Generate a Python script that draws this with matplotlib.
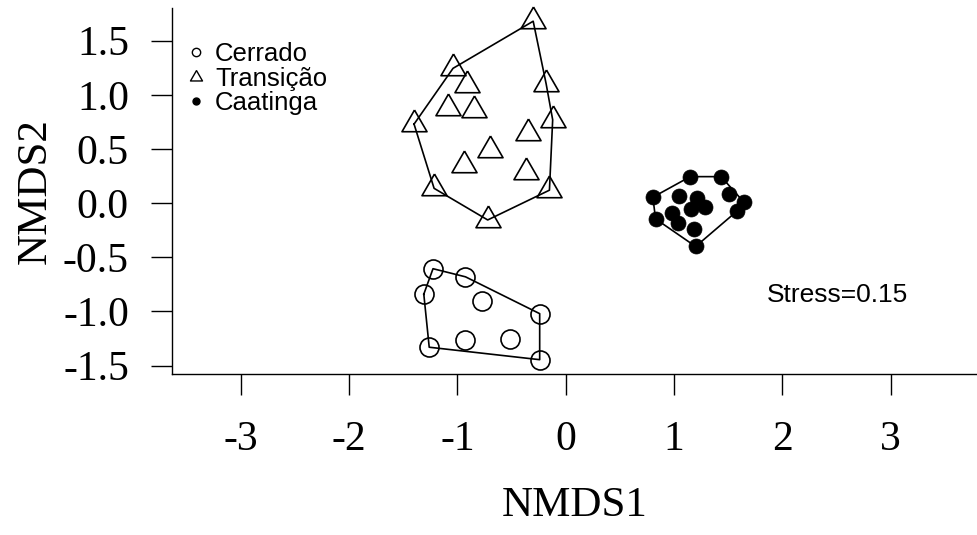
import numpy as np
import matplotlib
matplotlib.use("Agg")
import matplotlib.pyplot as plt
from matplotlib.lines import Line2D

# NMDS site scores per vegetation type
cerrado_x = [-1.225, -0.925, -1.31, -0.775, -0.24, -1.26, -0.93, -0.51, -0.24]
cerrado_y = [-0.605, -0.68, -0.84, -0.90, -1.02, -1.33, -1.26, -1.25, -1.445]

transicao_x = [-0.30, -1.04, -0.91, -0.18, -1.09, -0.85, -1.40, -0.12,
               -0.35, -0.695, -0.94, -0.37, -1.215, -0.15, -0.72]
transicao_y = [1.68, 1.245, 1.09, 1.10, 0.88, 0.86, 0.73, 0.77,
               0.645, 0.49, 0.35, 0.29, 0.137, 0.12, -0.155]

caatinga_x = [1.15, 1.435, 0.805, 1.05, 1.21, 1.51, 1.645, 1.16,
              1.29, 1.58, 0.83, 0.985, 1.035, 1.185, 1.20]
caatinga_y = [0.245, 0.245, 0.055, 0.07, 0.05, 0.085, 0.01, -0.05,
              -0.035, -0.075, -0.145, -0.09, -0.18, -0.235, -0.40]

groups = ["Cerrado", "Transição", "Caatinga"]
stress = 0.15

xticks = [-3, -2, -1, 0, 1, 2, 3]
yticks = [-1.5, -1.0, -0.5, 0.0, 0.5, 1.0, 1.5]


def chull(x, y):
    # monotone chain convex hull, returns closed polygon
    pts = sorted(zip(x, y))

    def cross(o, a, b):
        return (a[0]-o[0])*(b[1]-o[1]) - (a[1]-o[1])*(b[0]-o[0])

    lower, upper = [], []
    for p in pts:
        while len(lower) >= 2 and cross(lower[-2], lower[-1], p) <= 0:
            lower.pop()
        lower.append(p)
    for p in reversed(pts):
        while len(upper) >= 2 and cross(upper[-2], upper[-1], p) <= 0:
            upper.pop()
        upper.append(p)
    hull = lower[:-1] + upper[:-1]
    hull.append(hull[0])
    return np.array(hull)


# equilateral triangle centred on its centroid (like R pch=2)
tri = [(0, 1), (-0.866, -0.5), (0.866, -0.5), (0, 1)]

serif = "Liberation Serif"
sans = "Liberation Sans"

fig = plt.figure(figsize=(9.77, 5.35), dpi=100)
ax = fig.add_axes([0.17605, 0.30037, 0.82395, 0.68467])

lw = 1.2
ax.plot(cerrado_x, cerrado_y, ls="none", marker="o", ms=13.7, mfc="none",
        mec="black", mew=1.2, clip_on=False)
ax.plot(transicao_x, transicao_y, ls="none", marker=tri, ms=20.8, mfc="none",
        mec="black", mew=1.2, clip_on=False)
ax.plot(caatinga_x, caatinga_y, ls="none", marker="o", ms=10.8, mfc="black",
        mec="black", mew=0.5, clip_on=False)

for gx, gy in [(cerrado_x, cerrado_y), (transicao_x, transicao_y),
               (caatinga_x, caatinga_y)]:
    h = chull(gx, gy)
    ax.plot(h[:, 0], h[:, 1], color="black", lw=lw, clip_on=False)

ax.text(2.51, -0.91, "Stress=%.2f" % stress, ha="center", va="baseline",
        fontsize=19, family=sans)

handles = [
    Line2D([], [], ls="none", marker="o", ms=6, mfc="none", mec="black", mew=1),
    Line2D([], [], ls="none", marker=tri, ms=10, mfc="none", mec="black", mew=1),
    Line2D([], [], ls="none", marker="o", ms=5, mfc="black", mec="black"),
]
ax.legend(handles, groups, loc="upper left", bbox_to_anchor=(0.0137, 0.906),
          frameon=False, borderpad=0, borderaxespad=0, handlelength=1.0,
          handletextpad=0.24, labelspacing=0.02,
          prop={"family": sans, "size": 18.5})

ax.set_xlim(-3.635, 3.798)
ax.set_ylim(-1.58, 1.802)
ax.set_xticks(xticks)
ax.set_xticklabels([str(t) for t in xticks])
ax.set_yticks(yticks)
ax.set_yticklabels(["%.1f" % t for t in yticks])

for s in ["top", "right"]:
    ax.spines[s].set_visible(False)
for s in ["left", "bottom"]:
    ax.spines[s].set_linewidth(1.0)

ax.tick_params(axis="both", direction="out", length=15, width=1.0,
               labelsize=30)
ax.tick_params(axis="x", pad=18)
ax.tick_params(axis="y", pad=16)
for lab in ax.get_xticklabels() + ax.get_yticklabels():
    lab.set_family(serif)

ax.set_xlabel("NMDS1", family=serif, fontsize=31, labelpad=20)
ax.set_ylabel("NMDS2", family=serif, fontsize=31, labelpad=6)

fig.savefig("out.png", dpi=100)
